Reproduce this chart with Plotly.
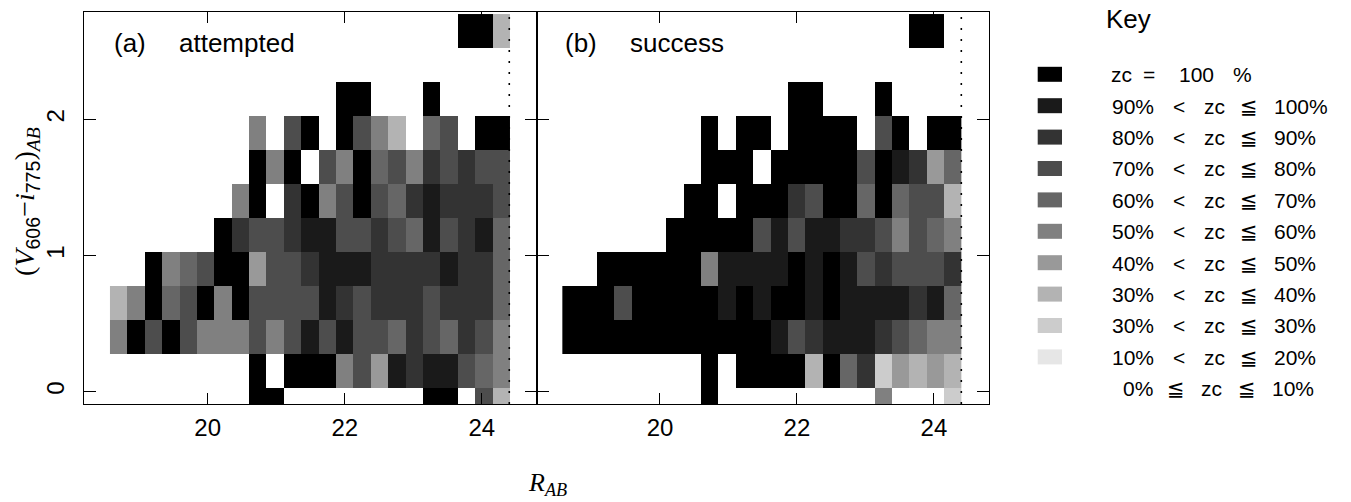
import plotly.graph_objects as go

_ = None

# ---------------- data ----------------
# R_AB magnitude bin centres (columns) and colour bin centres (rows, bottom -> top)
r_bins = [18.701, 18.954, 19.208, 19.461, 19.715, 19.968, 20.222, 20.475,
          20.729, 20.982, 21.236, 21.489, 21.742, 21.996, 22.249, 22.503,
          22.756, 23.010, 23.263, 23.517, 23.770, 24.023, 24.277]
color_bins = [-0.10, 0.15, 0.40, 0.65, 0.90, 1.15, 1.40, 1.65, 1.90, 2.15, 2.40, 2.65]
mag_limit = 24.40

# zc (%) class value per cell, rows bottom -> top
attempted = [
    [_,_,_,_,_,_,_,_,100,100,_,_,_,_,_,_,_,_,100,100,_,75,35],
    [_,_,_,_,_,_,_,_,100,_,100,100,100,55,75,45,95,85,95,95,75,65,55],
    [55,100,75,100,75,55,55,55,75,55,75,95,75,95,75,75,65,85,75,65,85,75,55],
    [35,55,100,65,75,100,55,100,75,75,75,75,95,85,75,85,85,85,75,85,85,85,65],
    [_,_,100,55,65,75,100,100,45,75,75,85,95,95,95,85,85,85,85,95,85,85,65],
    [_,_,_,_,_,_,100,85,75,75,85,95,95,75,75,85,75,65,95,75,85,95,65],
    [_,_,_,_,_,_,_,55,100,_,85,100,55,75,100,75,65,85,95,85,85,85,75],
    [_,_,_,_,_,_,_,_,100,55,100,_,75,55,100,65,75,55,85,75,85,75,75],
    [_,_,_,_,_,_,_,_,55,_,75,100,_,100,75,55,35,_,65,75,_,100,100],
    [_,_,_,_,_,_,_,_,_,_,_,_,_,100,100,_,_,_,100,_,_,_,_],
    [_,_,_,_,_,_,_,_,_,_,_,_,_,_,_,_,_,_,_,_,_,_,_],
    [_,_,_,_,_,_,_,_,_,_,_,_,_,_,_,_,_,_,_,_,100,100,35],
]

success = [
    [_,_,_,_,_,_,_,_,100,_,_,_,_,_,_,_,_,_,55,_,_,_,25],
    [_,_,_,_,_,_,_,_,100,_,100,100,100,100,35,100,65,85,25,45,35,45,35],
    [100,100,100,100,100,100,100,100,100,100,100,100,95,75,85,95,95,95,85,75,65,55,55],
    [100,100,100,75,100,100,100,100,100,95,100,95,100,100,95,100,95,95,95,95,85,95,65],
    [_,_,100,100,100,100,100,100,55,95,95,95,95,100,95,100,95,75,85,75,75,75,85],
    [_,_,_,_,_,_,100,100,100,100,100,75,95,75,95,95,85,85,75,55,75,65,55],
    [_,_,_,_,_,_,_,100,100,_,100,100,100,85,75,100,100,65,100,65,75,75,35],
    [_,_,_,_,_,_,_,_,100,100,100,_,100,100,100,100,100,75,100,95,85,45,65],
    [_,_,_,_,_,_,_,_,100,_,100,100,_,100,100,100,100,_,75,100,_,100,100],
    [_,_,_,_,_,_,_,_,_,_,_,_,_,100,100,_,_,_,100,_,_,_,_],
    [_,_,_,_,_,_,_,_,_,_,_,_,_,_,_,_,_,_,_,_,_,_,_],
    [_,_,_,_,_,_,_,_,_,_,_,_,_,_,_,_,_,_,_,_,100,100,_],
]

x_ticks = [20, 22, 24]
y_ticks = [0, 1, 2]
panel_tags = ["(a)", "(b)"]
panel_names = ["attempted", "success"]

key_title = "Key"
key_labels = [
    "zc = 100 %",
    "90% < zc ≦ 100%",
    "80% < zc ≦ 90%",
    "70% < zc ≦ 80%",
    "60% < zc ≦ 70%",
    "50% < zc ≦ 60%",
    "40% < zc ≦ 50%",
    "30% < zc ≦ 40%",
    "30% < zc ≦ 30%",
    "10% < zc ≦ 20%",
    "0% ≦ zc ≦ 10%",
]
# grey level of each class (zc=100 black ... 0-10% white / no swatch)
key_greys = [0, 26, 51, 77, 102, 128, 153, 179, 204, 230, 255]

# ---------------- helpers ----------------
W, H = 1351, 502
def px(x):
    return x / W
def py(y):
    return 1 - y / H

def grey(g):
    return f"rgb({g},{g},{g})"

# discrete colorscale on 0..100 : [0,10] white, (10,20] E6, ..., (90,100) 1A, 100 black
stops = []
bands = [(0.0, 0.10, 255), (0.10, 0.20, 230), (0.20, 0.30, 204), (0.30, 0.40, 179),
         (0.40, 0.50, 153), (0.50, 0.60, 128), (0.60, 0.70, 102), (0.70, 0.80, 77),
         (0.80, 0.90, 51), (0.90, 0.99, 26), (0.99, 1.0, 0)]
for a, b, g in bands:
    stops.append([a, grey(g)])
    stops.append([b, grey(g)])

fig = go.Figure()
for i, z in enumerate([attempted, success]):
    fig.add_trace(go.Heatmap(
        x=r_bins, y=color_bins, z=z,
        zmin=0, zmax=100, colorscale=stops, showscale=False,
        xaxis="x" if i == 0 else "x2", yaxis="y" if i == 0 else "y2",
        hoverinfo="skip",
    ))

xdom = [(84.3, 536.7), (536.7, 988.7)]
ydom = [py(404), py(12)]
tickfont = dict(family="Liberation Sans, DejaVu Sans", size=24, color="black")
common_x = dict(range=[18.2, 24.8], tickvals=x_ticks, ticks="inside", ticklen=11,
                tickwidth=1, tickcolor="black", showline=True, linecolor="black",
                linewidth=1, mirror="ticks", showgrid=False, zeroline=False,
                tickfont=tickfont, ticklabelstandoff=2)
common_y = dict(range=[-0.09, 2.79], tickvals=y_ticks, ticks="inside", ticklen=12,
                tickwidth=1, tickcolor="black", showline=True, linecolor="black",
                linewidth=1, mirror="ticks", showgrid=False, zeroline=False,
                tickfont=tickfont)

fig.update_layout(
    width=W, height=H, margin=dict(l=0, r=0, t=0, b=0),
    paper_bgcolor="white", plot_bgcolor="white", showlegend=False,
    xaxis=dict(domain=[px(xdom[0][0]), px(xdom[0][1])], anchor="y", **common_x),
    xaxis2=dict(domain=[px(xdom[1][0]), px(xdom[1][1])], anchor="y2", **common_x),
    yaxis=dict(domain=ydom, anchor="x", tickangle=-90, ticklabelstandoff=10, **common_y),
    yaxis2=dict(domain=ydom, anchor="x2", showticklabels=False, **common_y),
)

shapes = []
# magnitude limit (dotted)
for xr, yr in [("x", "y domain"), ("x2", "y2 domain")]:
    shapes.append(dict(type="line", xref=xr, yref=yr, x0=mag_limit, x1=mag_limit,
                       y0=0, y1=1, line=dict(color="black", width=1.6, dash="2px,9px"),
                       layer="above"))

# key swatches
for k, g in enumerate(key_greys):
    if g >= 255:
        continue
    yc = 74.3 + 31.4 * k
    shapes.append(dict(type="rect", xref="paper", yref="paper",
                       x0=px(1037.7), x1=px(1062), y0=py(yc + 7.5), y1=py(yc - 7.5),
                       fillcolor=grey(g), line=dict(width=0), layer="above"))
fig.update_layout(shapes=shapes)

ann = []
txtfont = dict(family="Liberation Sans, DejaVu Sans", size=26, color="black")
tag_x = [(111.7, 176.7), (563.0, 628.0)]
for i in range(2):
    ann.append(dict(text=panel_tags[i], x=px(tag_x[i][0]), y=py(43), xref="paper", yref="paper",
                    xanchor="left", yanchor="middle", showarrow=False, font=txtfont))
    ann.append(dict(text=panel_names[i], x=px(tag_x[i][1]), y=py(43), xref="paper", yref="paper",
                    xanchor="left", yanchor="middle", showarrow=False, font=txtfont))

# axis titles
serif = "Liberation Serif, DejaVu Serif"
ann.append(dict(text="(<i>V</i><sub><span style='font-family:Liberation Sans'>606</span></sub>−<i>i</i>"
                     "<sub><span style='font-family:Liberation Sans'>775</span></sub>)<sub><i>AB</i></sub>",
                x=px(26), y=py(202), xref="paper", yref="paper", textangle=-90,
                xanchor="center", yanchor="middle", showarrow=False,
                font=dict(family=serif, size=28, color="black")))
ann.append(dict(text="<i>R</i><sub><i>AB</i></sub>", x=px(526), y=py(484),
                xref="paper", yref="paper", xanchor="left", yanchor="middle",
                showarrow=False, font=dict(family=serif, size=26, color="black")))

# key
keyfont = dict(family="Liberation Sans, DejaVu Sans", size=21, color="black")
ann.append(dict(text=key_title, x=px(1128), y=py(19), xref="paper", yref="paper",
                xanchor="center", yanchor="middle", showarrow=False,
                font=dict(family="Liberation Sans, DejaVu Sans", size=26, color="black")))
pos_first = [("center", 1121.5), ("center", 1148.5), ("center", 1196.5), ("center", 1242.5)]
pos_mid = [("center", 1133.3), ("center", 1179), ("center", 1214), ("center", 1249), ("left", 1271.7)]
pos_last = [("center", 1137.5), ("center", 1175.5), ("center", 1211.5), ("center", 1247), ("left", 1270)]
for k, lab in enumerate(key_labels):
    toks = lab.split(" ")
    if k == 0:
        pos = pos_first
    elif k == len(key_labels) - 1:
        pos = pos_last
    else:
        pos = pos_mid
    yc = 74.7 + 31.4 * k
    for t, (anc, xx) in zip(toks, pos):
        ann.append(dict(text=t, x=px(xx), y=py(yc), xref="paper", yref="paper",
                        xanchor=anc, yanchor="middle", showarrow=False, font=keyfont))

fig.update_layout(annotations=ann)
fig.write_html("out.html")
